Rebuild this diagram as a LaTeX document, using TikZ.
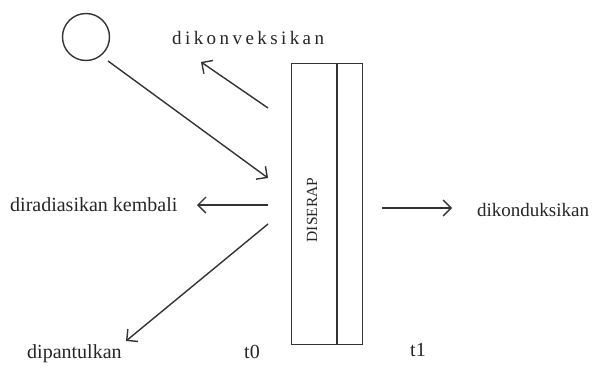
\documentclass[tikz,border=0pt]{standalone}
\usepackage{fontspec}
\setmainfont{Liberation Serif}
\usetikzlibrary{arrows.meta}
\begin{document}
\begin{tikzpicture}[x=1pt,y=-1pt,
  line/.style={draw=black!80, line width=1.4pt},
  arr/.style={line, -{Straight Barb[length=8pt,width=16pt,line width=1.4pt]}},
  lbl/.style={font=\fontsize{20}{20}\selectfont, text=black!85, inner sep=0pt}]
\useasboundingbox (0,0) rectangle (593,367);
% sun
\node[draw=black!80, line width=1.4pt, circle, minimum size=47pt, inner sep=0pt] (sun) at (86,37) {};
% slab
\node[draw=black!80, line width=1.3pt, minimum width=71pt, minimum height=281pt, inner sep=0pt, anchor=north west] (slab) at (291,63) {};
\coordinate (it) at (337,63);
\coordinate (ib) at (337,344);
\draw[line, line width=1.1pt] (it) -- (ib);
\node[rotate=90, font=\fontsize{15.5}{15.5}\selectfont, text=black!85, inner sep=0pt] (dis) at (312,210) {DISERAP};
% coordinates
\coordinate (inS) at (108,61);
\coordinate (inE) at (268,178);
\coordinate (cvS) at (268,108);
\coordinate (cvE) at (201,62);
\coordinate (rdS) at (268,205);
\coordinate (rdE) at (197,205);
\coordinate (rfS) at (268,224);
\coordinate (rfE) at (126,341);
\coordinate (cdS) at (382,208);
\coordinate (cdE) at (452,208);
\draw[arr] (inS) -- (inE);
\draw[arr] (cvS) -- (cvE);
\draw[arr] (rdS) -- (rdE);
\draw[arr] (rfS) -- (rfE);
\draw[arr] (cdS) -- (cdE);
% labels
\node[lbl, font=\fontsize{19}{19}\selectfont, anchor=west] (conv) at (172,38) {\addfontfeature{LetterSpace=18}dikonveksikan};
\node[lbl, anchor=west] (rad) at (10,205) {diradiasikan kembali};
\node[lbl, anchor=west] (ref) at (27,354) {dipantulkan};
\node[lbl, font=\fontsize{19}{19}\selectfont, anchor=west] (cond) at (477,210) {dikonduksikan};
\node[lbl] (t0) at (252,352) {t0};
\node[lbl] (t1) at (418,350) {t1};
\end{tikzpicture}
\end{document}
